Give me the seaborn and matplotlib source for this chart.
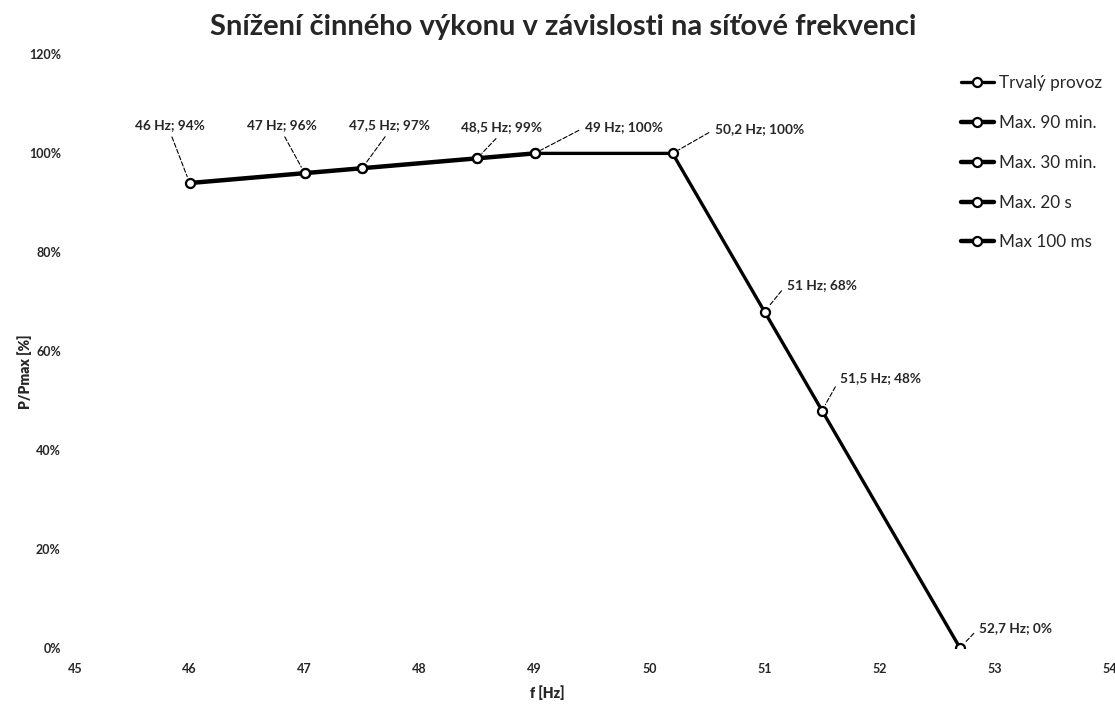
import pandas as pd
import matplotlib.pyplot as plt
import seaborn as sns
from matplotlib.ticker import PercentFormatter

# Data (frequency in Hz, power as fraction of Pmax)
freq = [46, 47, 47.5, 48.5, 49, 50.2, 51, 51.5, 52.7]
power = [0.94, 0.96, 0.97, 0.99, 1.00, 1.00, 0.68, 0.48, 0.0]
point_labels = ["46 Hz; 94%", "47 Hz; 96%", "47,5 Hz; 97%", "48,5 Hz; 99%", "49 Hz; 100%",
                "50,2 Hz; 100%", "51 Hz; 68%", "51,5 Hz; 48%", "52,7 Hz; 0%"]

# operating modes, each covering a stretch of the curve (index ranges into freq/power)
modes = ["Trvalý provoz", "Max. 90 min.", "Max. 30 min.", "Max. 20 s", "Max 100 ms"]
mode_ranges = [(4, 9), (3, 5), (2, 4), (1, 3), (0, 2)]

x_ticks = [45, 46, 47, 48, 49, 50, 51, 52, 53, 54]
y_ticks = [0, 0.2, 0.4, 0.6, 0.8, 1.0, 1.2]

rows = []
for mode, (a, b) in zip(modes, mode_ranges):
    for f, p in zip(freq[a:b], power[a:b]):
        rows.append({"f": f, "p": p, "mode": mode})
df = pd.DataFrame(rows)

sns.set_theme(style="white")
plt.rcParams['font.family'] = ['Lato', 'DejaVu Sans']

fig = plt.figure(figsize=(11.15, 7.12), dpi=100)
ax = fig.add_axes([0.067, 0.09, 0.928, 0.8335])

widths = {"Trvalý provoz": 2.4, "Max. 90 min.": 3.2, "Max. 30 min.": 3.2,
          "Max. 20 s": 3.2, "Max 100 ms": 3.2}
for mode in modes:
    sns.lineplot(data=df[df["mode"] == mode], x="f", y="p", ax=ax, color="black",
                 lw=widths[mode], marker="o", markersize=6.5, markerfacecolor="white",
                 markeredgecolor="black", markeredgewidth=1.6, sort=False,
                 label=mode, estimator=None)

ax.set_xlim(45, 54)
ax.set_ylim(0, 1.2)
ax.set_xticks(x_ticks)
ax.set_yticks(y_ticks)
ax.yaxis.set_major_formatter(PercentFormatter(1.0, decimals=0))
ax.tick_params(axis="both", length=0, labelsize=9)
ax.tick_params(axis="x", pad=11)
ax.tick_params(axis="y", pad=10)
for lab in ax.get_xticklabels() + ax.get_yticklabels():
    lab.set_fontweight("bold")
ax.set_xlabel("")
ax.set_ylabel("")
sns.despine(ax=ax, left=True, bottom=True)

# data labels with dashed leader lines (offsets in pixels)
offsets = [(-20, 58, "center"), (-23, 48, "center"), (27, 43, "center"), (24, 31, "center"),
           (50, 26, "left"), (42, 24, "left"), (22, 27, "left"), (18, 32, "left"), (19, 20, "left")]
for f, p, txt, (dx, dy, ha) in zip(freq, power, point_labels, offsets):
    rel = (0.5, 0.0) if ha == "center" else (0.0, 0.5)
    ax.annotate(txt, xy=(f, p), xytext=(dx, dy), textcoords="offset pixels",
                ha=ha, va="center", fontsize=9.8, fontweight="bold",
                arrowprops=dict(arrowstyle="-", linestyle=(0, (4, 2)), lw=0.8,
                                color="black", relpos=rel, shrinkA=2, shrinkB=5))

ax.get_legend().remove()
handles, labels = ax.get_legend_handles_labels()
fig.legend(handles, labels, loc="upper left", bbox_to_anchor=(0.862, 0.895),
           frameon=False, fontsize=12.3, handlelength=1.9, handletextpad=0.3,
           labelspacing=1.4, borderpad=0, borderaxespad=0)

fig.suptitle("Snížení činného výkonu v závislosti na síťové frekvenci",
             x=0.505, y=0.962, va="center", fontsize=21, fontweight="bold")
fig.text(0.022, 0.478, "P/Pmax [%]", rotation=90, ha="center", va="center",
         fontsize=10, fontweight="heavy")
fig.text(0.491, 0.027, "f [Hz]", ha="center", va="center", fontsize=10, fontweight="heavy")

fig.savefig("out.png", dpi=100)
